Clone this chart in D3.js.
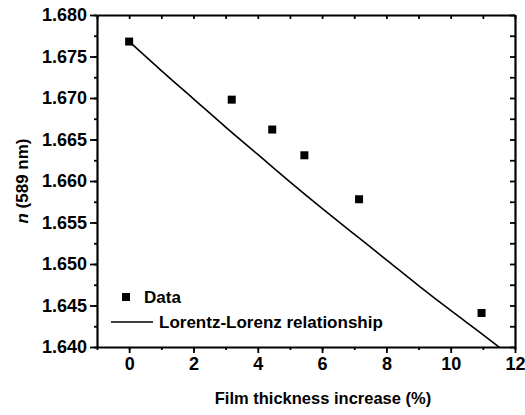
<!DOCTYPE html>
<html>
<head>
<meta charset="utf-8">
<script src="https://cdn.jsdelivr.net/npm/d3@7"></script>
<style>
  html, body { margin: 0; padding: 0; background: #fff; }
  svg { display: block; }
  text { font-family: "Liberation Sans", Arial, sans-serif; font-weight: bold; fill: #000; }
</style>
</head>
<body>
<script>
// Measured refractive index vs. film thickness increase
const dataX = [0, 3.19, 4.45, 5.45, 7.15, 10.96];
const dataN = [1.6768, 1.6698, 1.6662, 1.6631, 1.6578, 1.6441];

// Lorentz-Lorenz prediction
const llX = [0, 1, 2, 3, 4, 5, 6, 7, 8, 9, 10, 11, 11.6];
const llN = [1.6768, 1.6733, 1.6699, 1.6665, 1.6632, 1.6599, 1.6567, 1.6536, 1.6505, 1.6474, 1.6444, 1.6415, 1.6397];

const xTicks = [0, 2, 4, 6, 8, 10, 12];
const yTicks = [1.640, 1.645, 1.650, 1.655, 1.660, 1.665, 1.670, 1.675, 1.680];
const legendLabels = ["Data", "Lorentz-Lorenz relationship"];

const W = 525, H = 415;
const m = { left: 97, right: 10, top: 15, bottom: 68 };
const pw = W - m.left - m.right, ph = H - m.top - m.bottom;

const svg = d3.select("body").append("svg").attr("width", W).attr("height", H);

const x = d3.scaleLinear().domain([-1, 12]).range([m.left, m.left + pw]);
const y = d3.scaleLinear().domain([1.640, 1.680]).range([m.top + ph, m.top]);

svg.append("clipPath").attr("id", "plot-clip")
  .append("rect").attr("x", m.left).attr("y", m.top).attr("width", pw).attr("height", ph);

// model curve
const line = d3.line().x(d => x(d[0])).y(d => y(d[1])).curve(d3.curveMonotoneX);
svg.append("path")
  .datum(llX.map((v, i) => [v, llN[i]]))
  .attr("clip-path", "url(#plot-clip)")
  .attr("d", line)
  .attr("fill", "none").attr("stroke", "#000").attr("stroke-width", 1.6);

// data markers
const ms = 8;
svg.selectAll("rect.pt").data(dataX.map((v, i) => [v, dataN[i]])).enter()
  .append("rect").attr("class", "pt")
  .attr("x", d => x(d[0]) - ms / 2).attr("y", d => y(d[1]) - ms / 2)
  .attr("width", ms).attr("height", ms).attr("fill", "#000");

// axes
const minorX = d3.range(-1, 12.01, 1);
const minorY = d3.range(1.640, 1.68001, 0.0025);

function styleAxis(g) {
  g.select(".domain").attr("stroke-width", 2.2);
  g.selectAll(".tick line").attr("stroke-width", 1.8);
}

// bottom: major outward, minor outward short
const bottom = svg.append("g").attr("transform", `translate(0,${m.top + ph})`);
bottom.call(d3.axisBottom(x).tickValues(minorX).tickSize(3).tickFormat("").tickSizeOuter(0)).call(styleAxis);
bottom.append("g").call(d3.axisBottom(x).tickValues(xTicks).tickSize(6).tickPadding(4).tickFormat(d3.format("d")).tickSizeOuter(0))
  .call(g => { g.select(".domain").remove(); g.selectAll(".tick line").attr("stroke-width", 1.8);
    g.selectAll("text").style("font-size", "18px").attr("dy", "0.71em"); });

// left
const left = svg.append("g").attr("transform", `translate(${m.left},0)`);
left.call(d3.axisLeft(y).tickValues(minorY).tickSize(3).tickFormat("").tickSizeOuter(0)).call(styleAxis);
left.append("g").call(d3.axisLeft(y).tickValues(yTicks).tickSize(7).tickPadding(3).tickFormat(d3.format(".3f")).tickSizeOuter(0))
  .call(g => { g.select(".domain").remove(); g.selectAll(".tick line").attr("stroke-width", 1.8);
    g.selectAll("text").style("font-size", "18px"); });

// top and right mirror axes, inward ticks
svg.append("g").attr("transform", `translate(0,${m.top})`)
  .call(d3.axisTop(x).tickValues(minorX).tickSize(-4).tickFormat("").tickSizeOuter(0)).call(styleAxis);
svg.append("g").attr("transform", `translate(${m.left + pw},0)`)
  .call(d3.axisRight(y).tickValues(minorY).tickSize(-5).tickFormat("").tickSizeOuter(0)).call(styleAxis);

// axis titles
svg.append("text").attr("x", 323).attr("y", 404)
  .attr("text-anchor", "middle").style("font-size", "16.5px")
  .text("Film thickness increase (%)");

const yl = svg.append("text")
  .attr("transform", `translate(28,${m.top + ph / 2}) rotate(-90)`)
  .attr("text-anchor", "middle").style("font-size", "17px");
yl.append("tspan").style("font-style", "italic").text("n");
yl.append("tspan").text(" (589 nm)");

// legend
const lg = svg.append("g");
lg.append("rect").attr("x", 126 - ms / 2).attr("y", 297 - ms / 2).attr("width", ms).attr("height", ms).attr("fill", "#000");
lg.append("text").attr("x", 144).attr("y", 303).style("font-size", "17px").text(legendLabels[0]);
lg.append("line").attr("x1", 111).attr("x2", 153).attr("y1", 322).attr("y2", 322)
  .attr("stroke", "#000").attr("stroke-width", 1.6);
lg.append("text").attr("x", 159).attr("y", 328).style("font-size", "17px").text(legendLabels[1]);
</script>
</body>
</html>
